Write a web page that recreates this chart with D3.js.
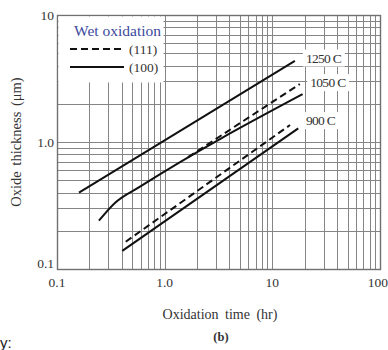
<!DOCTYPE html>
<html>
<head>
<meta charset="utf-8">
<script src="https://cdn.jsdelivr.net/npm/d3@7"></script>
<style>
  html, body { margin: 0; padding: 0; background: #fff; }
  svg { display: block; }
  text { font-family: "Liberation Serif", "DejaVu Serif", serif; fill: #333; }
</style>
</head>
<body>
<svg id="chart" width="388" height="350"></svg>
<script>
// Wet oxidation of silicon: oxide thickness vs. time, (111) and (100) orientations
const xTickLabels = ["0.1", "1.0", "10", "100"];
const yTickLabels = ["0.1", "1.0", "10"];

// [time (hr), thickness (µm)]
const t1250_100 = [[0.16, 0.40], [16.2, 4.35]];
const t1050_100 = [[0.245, 0.24], [0.345, 0.331], [0.59, 0.445], [19.1, 2.38]];
const t1050_111 = [[1.65, 0.76], [18.0, 2.86]];
const t900_100  = [[0.404, 0.139], [17.4, 1.28]];
const t900_111  = [[0.435, 0.164], [14.6, 1.36]];

const curveLabels = [
  { text: "1250 C", at: [20.5, 4.6] },
  { text: "1050 C", at: [22.5, 2.95] },
  { text: "900 C",  at: [20.5, 1.48] }
];

const svg = d3.select("#chart");
const m = { left: 57, right: 380, top: 15, bottom: 269 };

const x = d3.scaleLog().domain([0.1, 100]).range([m.left, m.right]);
const y = d3.scaleLog().domain([0.1, 10]).range([m.bottom, m.top]);

// grid: decade and sub-decade lines
const xGrid = [];
for (let d = 0.1; d < 100; d *= 10) for (let k = 1; k < 10; k++) xGrid.push(d * k);
const yGrid = [];
for (let d = 0.1; d < 10; d *= 10) for (let k = 1; k < 10; k++) yGrid.push(d * k);

const grid = svg.append("g").attr("stroke", "#858585").attr("stroke-width", 1);
grid.selectAll("line.v").data(xGrid.slice(1)).join("line")
  .attr("x1", d => Math.round(x(d)) + 0.5).attr("x2", d => Math.round(x(d)) + 0.5)
  .attr("y1", m.top).attr("y2", m.bottom);
grid.selectAll("line.h").data(yGrid.slice(1)).join("line")
  .attr("y1", d => Math.round(y(d)) + 0.5).attr("y2", d => Math.round(y(d)) + 0.5)
  .attr("x1", m.left).attr("x2", m.right);

// frame
svg.append("rect")
  .attr("x", m.left + 0.5).attr("y", m.top + 0.5)
  .attr("width", m.right - m.left).attr("height", m.bottom - m.top)
  .attr("fill", "none").attr("stroke", "#707070").attr("stroke-width", 1.4);

// legend box covering the grid
svg.append("rect")
  .attr("x", m.left + 1.5).attr("y", m.top + 1.5)
  .attr("width", 105).attr("height", 66).attr("fill", "#fff");
svg.append("text").attr("x", 74).attr("y", 36)
  .style("fill", "#3b4a9c").style("font-size", "15.5px").text("Wet oxidation");
svg.append("line").attr("x1", 70).attr("x2", 124).attr("y1", 49).attr("y2", 49)
  .attr("stroke", "#111").attr("stroke-width", 2).attr("stroke-dasharray", "7,4");
svg.append("line").attr("x1", 70).attr("x2", 124).attr("y1", 67).attr("y2", 67)
  .attr("stroke", "#111").attr("stroke-width", 2);
svg.append("text").attr("x", 129).attr("y", 54).style("font-size", "13.5px").text("(111)");
svg.append("text").attr("x", 129).attr("y", 72).style("font-size", "13.5px").text("(100)");

// curves
const line = d3.line().x(d => x(d[0])).y(d => y(d[1])).curve(d3.curveMonotoneX);
const curves = [
  { data: t1250_100, dash: null },
  { data: t1050_100, dash: null },
  { data: t1050_111, dash: "7,4" },
  { data: t900_100, dash: null },
  { data: t900_111, dash: "7,4" }
];
svg.append("g").selectAll("path").data(curves).join("path")
  .attr("d", d => line(d.data))
  .attr("fill", "none").attr("stroke", "#111").attr("stroke-width", 2)
  .attr("stroke-dasharray", d => d.dash);

// temperature labels on white patches
const lab = svg.append("g").selectAll("g").data(curveLabels).join("g")
  .attr("transform", d => `translate(${x(d.at[0])},${y(d.at[1])})`);
lab.append("text").attr("dy", "0.35em").style("font-size", "13.5px")
  .style("letter-spacing", "-0.7px").text(d => d.text)
  .each(function () {
    const b = this.getBBox();
    d3.select(this.parentNode).insert("rect", "text")
      .attr("x", b.x - 3).attr("y", b.y - 1).attr("width", b.width + 6).attr("height", b.height + 2)
      .attr("fill", "#fff");
  });

// tick labels
svg.append("g").selectAll("text").data(xTickLabels).join("text")
  .attr("x", d => (+d === 100 ? 388 : x(+d)))
  .attr("y", 287)
  .attr("text-anchor", d => (+d === 100 ? "end" : "middle"))
  .style("font-size", "13.5px").text(d => d);
svg.append("g").selectAll("text").data(yTickLabels).join("text")
  .attr("x", 54).attr("y", d => y(+d) - (+d === 0.1 ? 6 : 0)).attr("dy", "0.35em")
  .attr("text-anchor", "end").style("font-size", "13.5px").text(d => d);

// axis titles
svg.append("text").attr("x", 220).attr("y", 319).attr("text-anchor", "middle")
  .style("font-size", "14px").style("word-spacing", "3px").text("Oxidation time (hr)");
svg.append("text").attr("transform", "translate(21,142) rotate(-90)")
  .attr("text-anchor", "middle").style("font-size", "14.5px")
  .style("word-spacing", "2px").text("Oxide thickness (μm)");
svg.append("text").attr("x", 221).attr("y", 341).attr("text-anchor", "middle")
  .style("font-size", "12.5px").style("font-weight", "bold").text("(b)");

// caption fragment at the lower-left edge
svg.append("text").attr("x", 0).attr("y", 348)
  .style("font-family", "Liberation Sans, Arial, sans-serif").style("font-size", "15px")
  .style("fill", "#222").text("y:");
</script>
</body>
</html>
